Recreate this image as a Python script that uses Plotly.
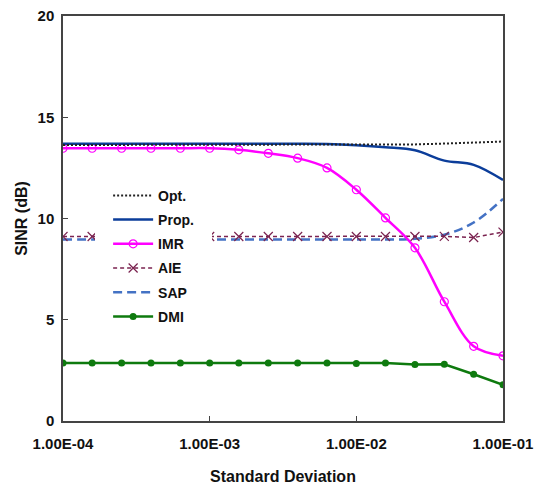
import plotly.graph_objects as go

# Standard deviation sample points (log-spaced)
std_dev = [1.00e-4, 1.58e-4, 2.51e-4, 3.98e-4, 6.31e-4,
           1.00e-3, 1.58e-3, 2.51e-3, 3.98e-3, 6.31e-3,
           1.00e-2, 1.58e-2, 2.51e-2, 3.98e-2, 6.31e-2, 1.00e-1]

opt = [13.63, 13.63, 13.63, 13.63, 13.63, 13.63, 13.63, 13.63, 13.63, 13.63,
       13.63, 13.64, 13.66, 13.70, 13.74, 13.80]
prop = [13.69, 13.69, 13.69, 13.69, 13.69, 13.69, 13.69, 13.69, 13.69, 13.68,
        13.62, 13.52, 13.37, 12.86, 12.65, 11.90]
imr = [13.47, 13.47, 13.47, 13.47, 13.47, 13.47, 13.39, 13.22, 12.98, 12.50,
       11.42, 10.03, 8.55, 5.89, 3.69, 3.22]
aie = [9.11, 9.11, 9.11, 9.11, 9.11, 9.11, 9.11, 9.11, 9.11, 9.11,
       9.11, 9.11, 9.11, 9.12, 9.06, 9.33]
sap = [8.96, 8.96, 8.96, 8.96, 8.96, 8.96, 8.96, 8.96, 8.96, 8.96,
       8.96, 8.96, 9.00, 9.20, 9.80, 10.97]
dmi = [2.86, 2.86, 2.86, 2.86, 2.86, 2.86, 2.86, 2.86, 2.86, 2.86,
       2.84, 2.86, 2.79, 2.80, 2.31, 1.79]

x_tickvals = [1e-4, 1e-3, 1e-2, 1e-1]
x_ticktext = ["1.00E-04", "1.00E-03", "1.00E-02", "1.00E-01"]
y_tickvals = [0, 5, 10, 15, 20]

FONT = "Liberation Sans, Arial, sans-serif"

fig = go.Figure()

fig.add_trace(go.Scatter(x=std_dev, y=dmi, name="DMI", mode="lines+markers",
                         line=dict(color="#0E7A0E", width=2.5),
                         marker=dict(symbol="circle", size=7, color="#0E7A0E"),
                         legendrank=6, legendgroup="g6"))
fig.add_trace(go.Scatter(x=std_dev, y=sap, name="SAP", mode="lines",
                         line=dict(color="#4472C4", width=2.5, dash="9px,5px", shape="spline"),
                         legendrank=5, legendgroup="g5"))
fig.add_trace(go.Scatter(x=std_dev, y=aie, name="AIE", mode="lines+markers",
                         line=dict(color="#7B2350", width=1.5, dash="4px,3px"),
                         marker=dict(symbol="x-thin-open", size=9,
                                     line=dict(color="#7B2350", width=1.2)),
                         legendrank=4, legendgroup="g4"))
fig.add_trace(go.Scatter(x=std_dev, y=imr, name="IMR", mode="lines+markers",
                         line=dict(color="#FF00FF", width=2.5, shape="spline"),
                         marker=dict(symbol="circle-open", size=8, color="#FF00FF",
                                     line=dict(width=1.2)),
                         legendrank=3, legendgroup="g3"))
fig.add_trace(go.Scatter(x=std_dev, y=prop, name="Prop.", mode="lines",
                         line=dict(color="#0B3D9A", width=2.5, shape="spline"),
                         legendrank=2, legendgroup="g2"))
fig.add_trace(go.Scatter(x=std_dev, y=opt, name="Opt.", mode="lines",
                         line=dict(color="#222222", width=2, dash="2px,2px"),
                         legendrank=1, legendgroup="g1"))

fig.update_layout(
    width=543, height=485,
    margin=dict(l=63, r=40, t=16, b=63.5),
    paper_bgcolor="white", plot_bgcolor="white",
    font=dict(family=FONT, color="#111111"),
    showlegend=True,
    legend=dict(x=0.073, y=0.6276, xanchor="left", yanchor="top",
                bgcolor="white", bordercolor="white", borderwidth=13,
                font=dict(family=FONT, size=14, color="#111111", weight="bold"),
                itemwidth=40, tracegroupgap=3),
    xaxis=dict(type="log", range=[-4, -1],
               tickvals=x_tickvals, ticktext=x_ticktext,
               ticks="inside", ticklen=5, tickcolor="#444444",
               ticklabelstandoff=8, automargin=False,
               showgrid=False, zeroline=False,
               showline=True, linecolor="#444444", linewidth=1.5, mirror=True,
               tickfont=dict(family=FONT, size=15, color="#111111", weight="bold"),
               title=dict(text="Standard Deviation", standoff=20,
                          font=dict(family=FONT, size=16, color="#111111", weight="bold"))),
    yaxis=dict(range=[0, 20], tickvals=y_tickvals,
               ticks="inside", ticklen=5, tickcolor="#444444",
               ticklabelstandoff=4, automargin=False,
               showgrid=False, zeroline=False,
               showline=True, linecolor="#444444", linewidth=1.5, mirror=True,
               tickfont=dict(family=FONT, size=15, color="#111111", weight="bold"),
               title=dict(text="SINR (dB)", standoff=6,
                          font=dict(family=FONT, size=16, color="#111111", weight="bold"))),
)

fig.write_html("out.html")
